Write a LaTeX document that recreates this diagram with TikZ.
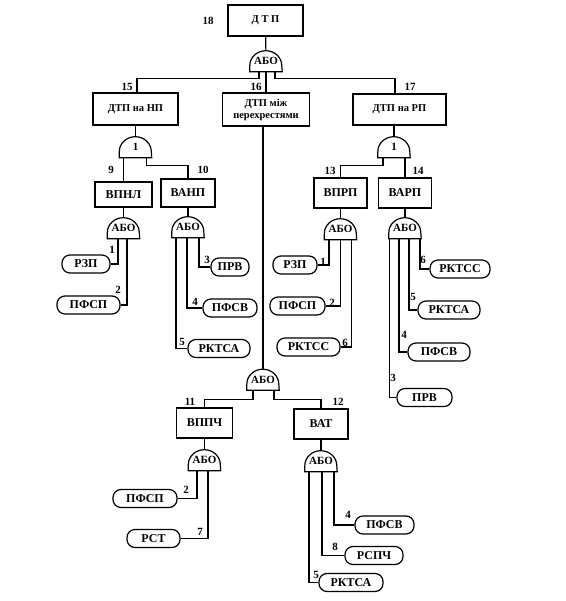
\documentclass[tikz,border=0pt]{standalone}
\usepackage{fontspec}
\setmainfont{Liberation Serif}
\tikzset{
	blk/.style = {draw, line width=1.2pt, inner sep=2pt, font=\bfseries\fontsize{12}{12}\selectfont},
	topblk/.style = {blk, align=center, font=\bfseries\fontsize{10.5}{12}\selectfont},
	pill/.style = {draw, line width=1.2pt, rounded corners=8pt, inner sep=1pt, minimum height=18pt, font=\bfseries\fontsize{12}{12}\selectfont},
	num/.style = {inner sep=0pt, font=\bfseries\fontsize{11}{11}\selectfont},
	gateline/.style = {draw, line width=1.2pt, to path={-- ++(0pt,6pt) arc[start angle=180, end angle=0, x radius=16pt, y radius=15pt] -- (\tikztotarget) -- cycle}},
	gate/.style = {inner sep=0pt, minimum width=32pt, minimum height=21pt, font=\bfseries\fontsize{11}{11}\selectfont,
		append after command={(\tikzlastnode.south west) edge[gateline] (\tikzlastnode.south east)}},
	wire/.style = {line width=1.2pt}
}
\begin{document}
\begin{tikzpicture}[x=1pt, y=-1pt]
		\useasboundingbox (0,0) rectangle (565,601);

		\node[topblk, minimum width=75pt, minimum height=31pt] (b18) at (265.5,20.5) {Д Т П};
		\node[gate] (g18) at (266,61) {АБО};
		\node[topblk, minimum width=85pt, minimum height=32pt] (b15) at (135.5,109) {ДТП на НП};
		\node[topblk, minimum width=87pt, minimum height=33pt, inner sep=1pt] (b16) at (266,109.5) {ДТП між\\перехрестями};
		\node[topblk, minimum width=93pt, minimum height=31pt] (b17) at (399.5,109.5) {ДТП на РП};

		\node[gate] (g15) at (135.5,147) {1};
		\node[blk, minimum width=57pt, minimum height=25pt] (b9) at (123.5,194.5) {ВПНЛ};
		\node[blk, minimum width=54pt, minimum height=28pt] (b10) at (188,193) {ВАНП};
		\node[gate] (g9) at (123.5,228) {АБО};
		\node[gate] (g10) at (188,227) {АБО};
		\node[pill, minimum width=48pt] (r9a) at (86,264) {РЗП};
		\node[pill, minimum width=63pt] (r9b) at (88.5,305) {ПФСП};
		\node[pill, minimum width=38pt] (r10a) at (230,267) {ПРВ};
		\node[pill, minimum width=54pt] (r10b) at (230,308) {ПФСВ};
		\node[pill, minimum width=62pt] (r10c) at (219,348.5) {РКТСА};

		\node[gate] (g17) at (394,147) {1};
		\node[blk, minimum width=53pt, minimum height=30pt] (b13) at (340.5,193) {ВПРП};
		\node[blk, minimum width=53pt, minimum height=30pt] (b14) at (405,193) {ВАРП};
		\node[gate] (g13) at (340.5,229) {АБО};
		\node[gate] (g14) at (405,228) {АБО};
		\node[pill, minimum width=44pt] (r13a) at (295,265) {РЗП};
		\node[pill, minimum width=55pt] (r13b) at (297.5,306) {ПФСП};
		\node[pill, minimum width=63pt] (r13c) at (308.5,347) {РКТСС};
		\node[pill, minimum width=60pt] (r14a) at (460,269) {РКТСС};
		\node[pill, minimum width=62pt] (r14b) at (449,310) {РКТСА};
		\node[pill, minimum width=62pt] (r14c) at (439,352) {ПФСВ};
		\node[pill, minimum width=55pt] (r14d) at (424.5,397.5) {ПРВ};

		\node[gate] (g16) at (263,379.5) {АБО};
		\node[blk, minimum width=56pt, minimum height=30pt] (b11) at (204.5,423) {ВППЧ};
		\node[blk, minimum width=54pt, minimum height=30pt] (b12) at (321,424) {ВАТ};
		\node[gate] (g11) at (204.5,460) {АБО};
		\node[gate] (g12) at (321,461) {АБО};
		\node[pill, minimum width=64pt] (r11a) at (145,498.5) {ПФСП};
		\node[pill, minimum width=53pt] (r11b) at (153.5,538.5) {РСТ};
		\node[pill, minimum width=59pt] (r12a) at (384.5,525) {ПФСВ};
		\node[pill, minimum width=58pt] (r12b) at (374,555.5) {РСПЧ};
		\node[pill, minimum width=64pt] (r12c) at (351,582.5) {РКТСА};

		\node[num] (n18) at (208,21) {18};
		\node[num] (n15) at (127,87) {15};
		\node[num] (n16) at (256,87) {16};
		\node[num] (n17) at (410,87) {17};
		\node[num] (n9) at (111,170) {9};
		\node[num] (n10) at (203,170) {10};
		\node[num] (n13) at (330,171) {13};
		\node[num] (n14) at (418,171) {14};
		\node[num] (n11) at (190,402) {11};
		\node[num] (n12) at (338,402) {12};
		\node[num] (e9a) at (112,250) {1};
		\node[num] (e9b) at (118,290) {2};
		\node[num] (e10a) at (207,260) {3};
		\node[num] (e10b) at (195,302) {4};
		\node[num] (e10c) at (182,342) {5};
		\node[num] (e13a) at (323,262) {1};
		\node[num] (e13b) at (332,303) {2};
		\node[num] (e13c) at (345,343) {6};
		\node[num] (e14a) at (423,260) {6};
		\node[num] (e14b) at (413,297) {5};
		\node[num] (e14c) at (404,335) {4};
		\node[num] (e14d) at (393,378) {3};
		\node[num] (e11a) at (186,490) {2};
		\node[num] (e11b) at (200,532) {7};
		\node[num] (e12a) at (348,515) {4};
		\node[num] (e12b) at (335,547) {8};
		\node[num] (e12c) at (316,575) {5};

		\draw[wire] (b18) -- (g18);
		\draw[wire] ([xshift=-7pt]g18.south) -- ++(0,6.5) -| ([xshift=1.5pt]b15.north);
		\draw[wire] (g18.south) -- (b16.north);
		\draw[wire] ([xshift=9pt]g18.south) -- ++(0,6.5) -| ([xshift=-4.5pt]b17.north);

		\draw[wire] (b15) -- (g15);
		\draw[wire] ([xshift=-12pt]g15.south) -- (b9.north);
		\draw[wire] ([xshift=11pt]g15.south) -- ++(0,8) -| (b10.north);
		\draw[wire] (b9) -- (g9);
		\draw[wire] (b10) -- (g10);
		\draw[wire] ([xshift=-5.5pt]g9.south) |- (r9a.east);
		\draw[wire] ([xshift=3.5pt]g9.south) |- (r9b.east);
		\draw[wire] ([xshift=11pt]g10.south) |- (r10a.west);
		\draw[wire] ([xshift=-1pt]g10.south) |- (r10b.west);
		\draw[wire] ([xshift=-12pt]g10.south) |- (r10c.west);

		\draw[wire] ([xshift=-5.5pt]b17.south) -- (g17.north);
		\draw[wire] ([xshift=-11pt]g17.south) -- ++(0,7.5) -| (b13.north);
		\draw[wire] ([xshift=11pt]g17.south) -- (b14.north);
		\draw[wire] (b13) -- (g13);
		\draw[wire] (b14) -- (g14);
		\draw[wire] ([xshift=-11.5pt]g13.south) |- (r13a.east);
		\draw[wire] (g13.south) |- (r13b.east);
		\draw[wire] ([xshift=11pt]g13.south) |- (r13c.east);
		\draw[wire] ([xshift=15pt]g14.south) |- (r14a.west);
		\draw[wire] ([xshift=4pt]g14.south) |- (r14b.west);
		\draw[wire] ([xshift=-6pt]g14.south) |- (r14c.west);
		\draw[wire] ([xshift=-15.5pt]g14.south) |- (r14d.west);

		\draw[wire] ([xshift=-3pt]b16.south) -- (g16.north);
		\draw[wire] ([xshift=-10pt]g16.south) -- ++(0,9) -| (b11.north);
		\draw[wire] ([xshift=11pt]g16.south) -- ++(0,9) -| (b12.north);
		\draw[wire] (b11) -- (g11);
		\draw[wire] (b12) -- (g12);
		\draw[wire] ([xshift=-7.5pt]g11.south) |- (r11a.east);
		\draw[wire] ([xshift=3.5pt]g11.south) |- (r11b.east);
		\draw[wire] ([xshift=13pt]g12.south) |- (r12a.west);
		\draw[wire] ([xshift=1pt]g12.south) |- (r12b.west);
		\draw[wire] ([xshift=-12pt]g12.south) |- (r12c.west);
\end{tikzpicture}
\end{document}
